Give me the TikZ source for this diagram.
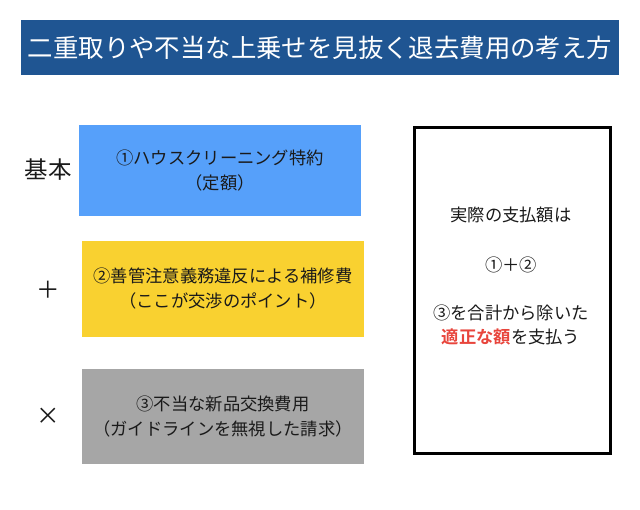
\documentclass[tikz,border=0pt]{standalone}
\usepackage{fontspec}
\setmainfont{Noto Sans CJK JP}
\newfontfamily\cjkb[BoldFont={Noto Sans CJK JP Bold}]{Noto Sans CJK JP}
\definecolor{titlebg}{HTML}{1F5592}
\definecolor{boxblue}{HTML}{56A0FA}
\definecolor{boxyellow}{HTML}{F9D130}
\definecolor{boxgray}{HTML}{A6A6A6}
\definecolor{txt}{HTML}{1A1A1A}
\definecolor{accent}{HTML}{E8453C}
\tikzset{
  itembox/.style={minimum width=282bp, minimum height=91bp, inner sep=0pt, align=center,
    font=\fontsize{17.3bp}{25bp}\selectfont, text=txt},
  sidelabel/.style={font=\fontsize{23.5bp}{26bp}\selectfont, text=txt},
  restext/.style={font=\fontsize{17.3bp}{22bp}\selectfont, text=txt}
}
\begin{document}
\begin{tikzpicture}[x=1bp,y=-1bp]
\useasboundingbox (0,0) rectangle (640,510);
\fill[white] (0,0) rectangle (640,510);
\node[fill=titlebg, minimum width=598bp, minimum height=55bp, inner sep=0pt,
  text=white, font=\fontsize{25.4bp}{28bp}\selectfont] (title) at (320,47.5)
  {二重取りや不当な上乗せを見抜く退去費用の考え方};

\node[itembox, fill=boxblue] (b1) at (220,170.5) {①ハウスクリーニング特約\\（定額）};
\node[itembox, fill=boxyellow, minimum height=95bp] (b2) at (223,289) {②善管注意義務違反による補修費\\（ここが交渉のポイント）};
\node[itembox, fill=boxgray, minimum height=95bp] (b3) at (223,416.5) {③不当な新品交換費用\\（ガイドラインを無視した請求）};

\node[sidelabel] (l1) at (48,170) {基本};
\node[sidelabel] (l2) at (48,290) {＋};
\node[sidelabel] (l3) at (48,416) {×};

\node[draw=black, line width=3bp, minimum width=196bp, minimum height=325bp, inner sep=0pt] (res) at (512,290.5) {};
\node[restext] (r1) at (511,215) {実際の支払額は};
\node[restext] (r2) at (511,265) {①＋②};
\node[restext] (r3) at (511,313) {③を合計から除いた};
\node[restext] (r4) at (511,337) {{\cjkb\bfseries\color{accent}適正な額}を支払う};
\end{tikzpicture}
\end{document}
